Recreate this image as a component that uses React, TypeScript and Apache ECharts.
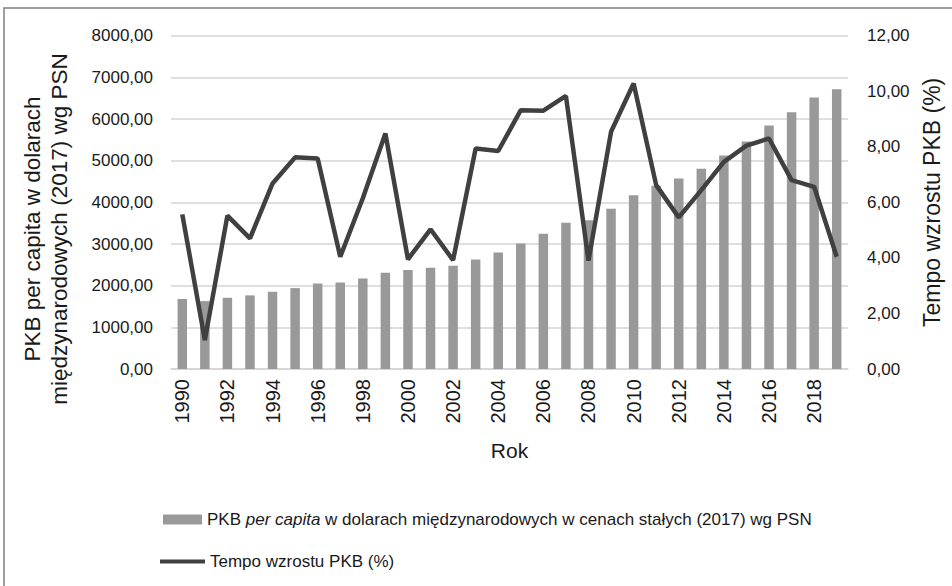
import React, { useEffect, useRef } from "react";
import * as echarts from "echarts";

const years = ["1990","1991","1992","1993","1994","1995","1996","1997","1998","1999","2000","2001","2002","2003","2004","2005","2006","2007","2008","2009","2010","2011","2012","2013","2014","2015","2016","2017","2018","2019"];
const gdpPerCapita = [1680,1630,1710,1767,1854,1942,2055,2079,2175,2310,2374,2429,2477,2630,2798,3014,3245,3509,3573,3845,4173,4396,4573,4804,5125,5460,5844,6163,6516,6715];
const growthRate = [5.57,1.04,5.52,4.70,6.68,7.62,7.58,4.04,6.15,8.48,3.95,5.03,3.92,7.94,7.85,9.32,9.30,9.83,3.90,8.54,10.28,6.62,5.46,6.44,7.46,8.04,8.30,6.80,6.56,4.04];

const barName = "PKB per capita w dolarach międzynarodowych w cenach stałych (2017) wg PSN";
const lineName = "Tempo wzrostu PKB (%)";
const leftTitle = "PKB per capita w dolarach\nmiędzynarodowych (2017) wg PSN";
const rightTitle = "Tempo wzrostu PKB (%)";
const xTitle = "Rok";

const FONT = "'Liberation Sans', Arial, sans-serif";
const fmt = (v: number) => v.toFixed(2).replace(".", ",");

export default function App() {
  const ref = useRef<HTMLDivElement>(null);
  useEffect(() => {
    if (!ref.current) return;
    const chart = echarts.init(ref.current, null, { renderer: "svg" });
    chart.setOption({
      animation: false,
      backgroundColor: "#ffffff",
      textStyle: { fontFamily: FONT, color: "#1a1a1a" },
      grid: { left: 171, right: 104, top: 35.7, bottom: 217, containLabel: false },
      xAxis: {
        type: "category",
        data: years,
        boundaryGap: true,
        axisTick: { show: false },
        axisLine: { show: true, lineStyle: { color: "#d4d4d4", width: 1.5 } },
        axisLabel: { rotate: 90, interval: 1, margin: 10, fontSize: 20, color: "#1a1a1a", fontFamily: FONT },
        name: xTitle,
        nameLocation: "middle",
        nameGap: 71,
        nameTextStyle: { fontSize: 21, color: "#1a1a1a", fontFamily: FONT },
      },
      yAxis: [
        {
          type: "value",
          min: 0,
          max: 8000,
          interval: 1000,
          position: "left",
          axisLine: { show: false },
          axisTick: { show: false },
          splitLine: { show: true, lineStyle: { color: "#d4d4d4", width: 1.5 } },
          axisLabel: { formatter: fmt, margin: 18, fontSize: 17, color: "#1a1a1a", fontFamily: FONT },
        },
        {
          type: "value",
          min: 0,
          max: 12,
          interval: 2,
          position: "right",
          axisLine: { show: false },
          axisTick: { show: false },
          splitLine: { show: false },
          axisLabel: { formatter: fmt, margin: 19, fontSize: 17, color: "#1a1a1a", fontFamily: FONT },
          name: rightTitle,
          nameLocation: "middle",
          nameGap: 71,
          nameTextStyle: { fontSize: 23, color: "#1a1a1a", fontFamily: FONT },
        },
      ],
      legend: [
        {
          data: [barName],
          left: 163,
          top: 511,
          padding: 0,
          icon: "rect",
          itemWidth: 39,
          itemHeight: 10,
          itemGap: 5,
          formatter: () =>
            "{n|PKB }{i|per capita}{n| w dolarach międzynarodowych w cenach stałych (2017) wg PSN}",
          textStyle: {
            fontFamily: FONT,
            fontSize: 17,
            color: "#1a1a1a",
            rich: {
              n: { fontSize: 17, fontFamily: FONT, color: "#1a1a1a" },
              i: { fontSize: 17, fontFamily: FONT, color: "#1a1a1a", fontStyle: "italic" },
            },
          },
        },
        {
          data: [lineName],
          left: 160,
          top: 553,
          padding: 0,
          icon: "rect",
          itemWidth: 45,
          itemHeight: 4,
          textStyle: { fontFamily: FONT, fontSize: 17, color: "#1a1a1a" },
        },
      ],
      series: [
        {
          name: barName,
          type: "bar",
          yAxisIndex: 0,
          data: gdpPerCapita,
          barWidth: "42%",
          itemStyle: { color: "#999999" },
        },
        {
          name: lineName,
          type: "line",
          yAxisIndex: 1,
          data: growthRate,
          symbol: "none",
          lineStyle: { color: "#404040", width: 4.5 },
          itemStyle: { color: "#404040" },
        },
      ],
      graphic: [
        {
          type: "rect",
          shape: { x: 4, y: 8, width: 1200, height: 1200 },
          style: { fill: "none", stroke: "#7f7f7f", lineWidth: 1.5 },
          silent: true,
        },
        {
          type: "text",
          x: 46,
          y: 229,
          rotation: Math.PI / 2,
          style: {
            text: leftTitle,
            align: "center",
            verticalAlign: "middle",
            fontSize: 22.5,
            lineHeight: 27,
            fontFamily: FONT,
            fill: "#1a1a1a",
          },
        },
      ],
    });
    return () => chart.dispose();
  }, []);
  return <div ref={ref} style={{ width: 952, height: 586, position: "absolute", left: 0, top: 0 }} />;
}
